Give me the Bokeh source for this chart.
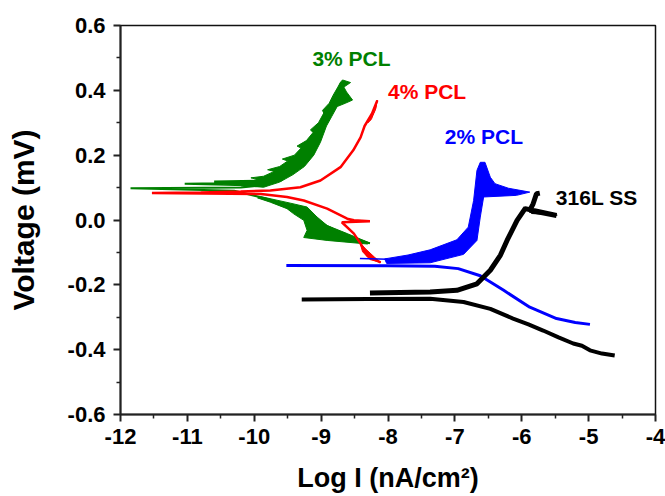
from bokeh.plotting import figure
from bokeh.models import FixedTicker, NumeralTickFormatter, Label
from bokeh.embed import file_html
from bokeh.resources import INLINE

# ---------------- data (log I vs voltage) ----------------
X_TICKS = [-12, -11, -10, -9, -8, -7, -6, -5, -4]
X_MINOR = [-11.5, -10.5, -9.5, -8.5, -7.5, -6.5, -5.5, -4.5]
Y_TICKS = [-0.6, -0.4, -0.2, 0.0, 0.2, 0.4, 0.6]
Y_MINOR = [-0.5, -0.3, -0.1, 0.1, 0.3, 0.5]

# 3% PCL (green)
pcl3_x = [-8.27, -8.6, -8.9, -9.1, -9.3, -9.5, -9.8, -10.3, -11.85, -10.2, -9.9, -11.04,
          -9.7, -10.6, -9.6, -9.5, -9.3, -9.15, -9.0, -8.88, -8.78, -8.7]
pcl3_y = [-0.072, -0.05, -0.02, 0.005, 0.03, 0.045, 0.065, 0.09, 0.098, 0.100, 0.106, 0.112,
          0.116, 0.119, 0.122, 0.14, 0.17, 0.21, 0.27, 0.33, 0.38, 0.425]
pcl3_anodic_x = [-10.5, -10.1, -9.95, -10.05, -9.86, -9.7, -9.8, -9.62, -9.5, -9.58, -9.4,
                 -9.3, -9.36, -9.22, -9.12, -9.16, -9.04, -8.96, -8.98, -8.88, -8.82, -8.75,
                 -8.71, -8.68, -8.56, -8.66, -8.62, -8.53, -8.64, -8.76, -8.84, -8.92, -9.01,
                 -9.11, -9.25, -9.42, -9.62, -9.86]
pcl3_anodic_y = [0.112, 0.117, 0.125, 0.13, 0.135, 0.15, 0.155, 0.165, 0.182, 0.188, 0.2,
                 0.222, 0.228, 0.245, 0.27, 0.278, 0.3, 0.33, 0.338, 0.36, 0.385, 0.41,
                 0.425, 0.432, 0.424, 0.41, 0.395, 0.37, 0.36, 0.35, 0.32, 0.29, 0.24,
                 0.2, 0.165, 0.14, 0.117, 0.101]
pcl3_cathodic_x = [-9.9, -9.46, -9.21, -9.06, -8.91, -8.61, -8.27, -8.31, -8.91, -9.26, -9.21,
                   -9.26, -9.41, -9.51, -9.76, -9.95]
pcl3_cathodic_y = [0.072, 0.052, 0.040, 0.009, -0.017, -0.042, -0.071, -0.074, -0.063, -0.054,
                   -0.032, -0.001, 0.019, 0.035, 0.055, 0.068]

# 4% PCL (red)
pcl4_x = [-8.11, -8.2, -8.31, -8.41, -8.51, -8.69, -8.27, -8.51, -8.61, -8.91, -9.26, -9.51,
          -9.9, -11.53, -10.8, -10.2, -9.76, -9.31, -9.01, -8.71, -8.52, -8.41, -8.35, -8.24,
          -8.16]
pcl4_y = [-0.131, -0.122, -0.109, -0.073, -0.042, -0.007, -0.004, -0.001, 0.004, 0.035, 0.060,
          0.071, 0.080, 0.083, 0.085, 0.088, 0.091, 0.101, 0.122, 0.163, 0.215, 0.255, 0.29,
          0.328, 0.369]
pcl4_top_x = [-8.30, -8.20, -8.16, -8.18, -8.25]
pcl4_top_y = [0.30, 0.335, 0.37, 0.345, 0.31]
pcl4_end_x = [-8.42, -8.33, -8.20, -8.11, -8.27, -8.38]
pcl4_end_y = [-0.07, -0.09, -0.115, -0.131, -0.122, -0.098]

# 2% PCL (blue)
pcl2_x = [-4.98, -5.2, -5.48, -5.88, -6.27, -6.62, -6.95, -7.3, -8.0, -9.52]
pcl2_y = [-0.322, -0.316, -0.304, -0.269, -0.217, -0.172, -0.150, -0.143, -0.141, -0.140]
pcl2_tail_x = [-8.42, -8.0]
pcl2_tail_y = [-0.119, -0.121]
pcl2_band_x = [-8.05, -7.7, -7.37, -6.97, -6.80, -6.72, -6.67, -6.62, -6.55, -6.47, -6.40,
               -6.2, -5.88, -6.08, -6.57, -6.62, -6.67, -6.87, -7.37, -8.02]
pcl2_band_y = [-0.120, -0.108, -0.092, -0.061, -0.022, 0.060, 0.153, 0.178, 0.178, 0.132,
               0.112, 0.098, 0.086, 0.076, 0.071, 0.009, -0.063, -0.106, -0.132, -0.134]

# 316L SS (black)
ss_cath_x = [-4.61, -4.8, -4.98, -5.1, -5.23, -5.45, -5.68, -5.9, -6.13, -6.47, -6.87, -7.37,
             -8.3, -9.29]
ss_cath_y = [-0.418, -0.412, -0.402, -0.388, -0.381, -0.362, -0.341, -0.322, -0.304, -0.274,
             -0.253, -0.243, -0.244, -0.245]
ss_anod_x = [-8.27, -7.37, -6.97, -6.67, -6.47, -6.32, -6.22, -6.07, -5.95, -5.48, -5.88,
             -5.83, -5.78, -5.73]
ss_anod_y = [-0.225, -0.222, -0.217, -0.197, -0.155, -0.109, -0.063, -0.001, 0.035, 0.014,
             0.030, 0.050, 0.081, 0.083]
ss_spike_x = [-5.97, -5.47, -5.85]
ss_spike_y = [0.040, 0.015, 0.020]

LABELS = ["3% PCL", "4% PCL", "2% PCL", "316L SS"]
LABEL_COLORS = ["#008000", "#ff0000", "#0000ff", "#000000"]
LABEL_X = [-9.13, -8.0, -7.15, -5.49]
LABEL_Y = [0.498, 0.396, 0.258, 0.070]

GREEN, RED, BLUE, BLACK = "#008000", "#ff0000", "#0000ff", "#000000"
FONT = "Liberation Sans"

p = figure(width=665, height=496, x_range=(-12, -4), y_range=(-0.6, 0.6),
           output_backend="svg", toolbar_location=None,
           min_border_left=120, min_border_right=10, min_border_top=25, min_border_bottom=82)
p.background_fill_color = "white"
p.border_fill_color = "white"
p.grid.visible = False
p.outline_line_color = "#111111"
p.outline_line_width = 1.5

# curves
p.patch(pcl3_anodic_x, pcl3_anodic_y, color=GREEN, line_width=1)
p.patch(pcl3_cathodic_x, pcl3_cathodic_y, color=GREEN, line_width=1)
p.line(pcl3_x, pcl3_y, color=GREEN, line_width=2)

p.line(pcl4_x, pcl4_y, color=RED, line_width=2.5)
p.patch(pcl4_top_x, pcl4_top_y, color=RED, line_width=1)
p.patch(pcl4_end_x, pcl4_end_y, color=RED, line_width=1)

p.patch(pcl2_band_x, pcl2_band_y, color=BLUE, line_width=1)
p.line(pcl2_x, pcl2_y, color=BLUE, line_width=3)
p.line(pcl2_tail_x, pcl2_tail_y, color=BLUE, line_width=1.5)

p.line(ss_cath_x, ss_cath_y, color=BLACK, line_width=4)
p.line(ss_anod_x, ss_anod_y, color=BLACK, line_width=5)
p.patch(ss_spike_x, ss_spike_y, color=BLACK, line_width=1)

for t, c, lx, ly in zip(LABELS, LABEL_COLORS, LABEL_X, LABEL_Y):
    p.add_layout(Label(x=lx, y=ly, text=t, text_color=c, text_font=FONT,
                       text_font_style="bold", text_font_size="21px",
                       text_baseline="middle", text_align="left"))

# axes
p.xaxis.ticker = FixedTicker(ticks=X_TICKS, minor_ticks=X_MINOR)
p.yaxis.ticker = FixedTicker(ticks=Y_TICKS, minor_ticks=Y_MINOR)
p.xaxis.formatter = NumeralTickFormatter(format="0")
p.yaxis.formatter = NumeralTickFormatter(format="0.0")
p.xaxis.axis_label = "Log I (nA/cm²)"
p.yaxis.axis_label = "Voltage (mV)"
for ax in (p.xaxis, p.yaxis):
    ax.axis_line_width = 2
    ax.axis_line_color = "#222222"
    ax.major_tick_line_width = 2
    ax.major_tick_line_color = "#222222"
    ax.minor_tick_line_width = 1.5
    ax.minor_tick_line_color = "#222222"
    ax.major_tick_in = 0
    ax.major_tick_out = 7
    ax.minor_tick_in = 0
    ax.minor_tick_out = 4
    ax.major_label_text_font = FONT
    ax.major_label_text_font_style = "bold"
    ax.major_label_text_font_size = "22px"
    ax.major_label_text_color = "black"
    ax.axis_label_text_font = FONT
    ax.axis_label_text_font_style = "bold"
    ax.axis_label_text_color = "black"
p.xaxis.axis_label_text_font_size = "27px"
p.yaxis.axis_label_text_font_size = "30px"
p.xaxis.major_label_standoff = 7
p.xaxis.axis_label_standoff = 16
p.yaxis.major_label_standoff = 8
p.yaxis.axis_label_standoff = 25

open("out.html", "w").write(file_html(p, INLINE))
